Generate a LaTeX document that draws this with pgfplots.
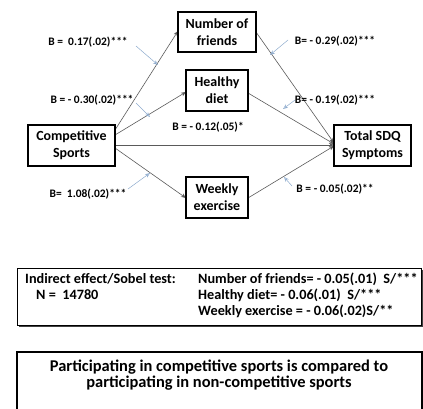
\documentclass[border=0pt]{standalone}
\usepackage{pgfplots}
\pgfplotsset{compat=1.18}
\usepackage{fontspec}
\setmainfont{Carlito}
\usetikzlibrary{arrows.meta}
\definecolor{lineg}{RGB}{90,90,90}
\definecolor{callout}{RGB}{140,170,205}
\begin{document}
\begin{tikzpicture}
\begin{axis}[
  scale only axis, width=423bp, height=409bp,
  xmin=0, xmax=423, ymin=0, ymax=409, y dir=reverse,
  hide axis, clip=false,
]
\coordinate (TL) at (axis cs:0,0);
\coordinate (BR) at (axis cs:423,409);
% path lines
\addplot[lineg, line width=0.6pt, -{Stealth[length=5pt,width=4pt]}] coordinates {(115,130) (178,31)};
\addplot[lineg, line width=0.6pt, -{Stealth[length=5pt,width=4pt]}] coordinates {(115,135) (186,92)};
\addplot[lineg, line width=0.6pt, -{Stealth[length=5pt,width=4pt]}] coordinates {(115,145) (334,145)};
\addplot[lineg, line width=0.6pt, -{Stealth[length=5pt,width=4pt]}] coordinates {(115,148) (186,198)};
\addplot[lineg, line width=0.6pt, -{Stealth[length=5pt,width=4pt]}] coordinates {(256,32) (334,143)};
\addplot[lineg, line width=0.6pt, -{Stealth[length=5pt,width=4pt]}] coordinates {(248,93) (334,144)};
\addplot[lineg, line width=0.6pt, -{Stealth[length=5pt,width=4pt]}] coordinates {(248,198) (334,146)};
% callout arrows
\addplot[callout, line width=0.5pt, -{Stealth[length=5pt,width=4pt,open]}] coordinates {(136,46) (158,65)};
\addplot[callout, line width=0.5pt, -{Stealth[length=5pt,width=4pt,open]}] coordinates {(136,103) (150,117)};
\addplot[callout, line width=0.5pt, -{Stealth[length=5pt,width=4pt,open]}] coordinates {(128,189) (150,173)};
\addplot[callout, line width=0.5pt, -{Stealth[length=5pt,width=4pt,open]}] coordinates {(288,40) (270,55)};
\addplot[callout, line width=0.5pt, -{Stealth[length=5pt,width=4pt,open]}] coordinates {(295,100) (283,109)};
\addplot[callout, line width=0.5pt, -{Stealth[length=5pt,width=4pt,open]}] coordinates {(292,186) (284,177)};
% boxes
\draw[line width=1.5pt, fill=white] (axis cs:178,12) rectangle (axis cs:256,52);
\draw[line width=1.5pt, fill=white] (axis cs:186,70) rectangle (axis cs:248,111);
\draw[line width=1.5pt, fill=white] (axis cs:28,125) rectangle (axis cs:115,166);
\draw[line width=1.5pt, fill=white] (axis cs:334,125) rectangle (axis cs:411,166);
\draw[line width=1.5pt, fill=white] (axis cs:186,177) rectangle (axis cs:248,218);
\begin{scope}[every node/.style={font=\fontsize{14}{17}\selectfont\bfseries, align=center, inner sep=0pt}]
\node at (axis cs:217,32) {Number of\\friends};
\node at (axis cs:217,90.5) {Healthy\\diet};
\node at (axis cs:71.5,145.5) {Competitive\\Sports};
\node at (axis cs:372.5,145.5) {Total SDQ\\Symptoms};
\node at (axis cs:217,197.5) {Weekly\\exercise};
\end{scope}
% coefficient labels
\begin{scope}[every node/.style={font=\fontsize{11.5}{13}\selectfont\bfseries, inner sep=0pt}]
\node at (axis cs:88,42) {B =\ \ 0.17(.02)***};
\node at (axis cs:92,100) {B = - 0.30(.02)***};
\node at (axis cs:208,127) {B = - 0.12(.05)*};
\node at (axis cs:88,194) {B= \ 1.08(.02)***};
\node at (axis cs:335,41) {B= - 0.29(.02)***};
\node at (axis cs:335,100) {B= - 0.19(.02)***};
\node at (axis cs:335,189) {B = - 0.05(.02)**};
\end{scope}
% indirect box with shadow
\fill[black!75] (axis cs:19,270) rectangle (axis cs:423,327);
\draw[line width=1pt, fill=white] (axis cs:17,268) rectangle (axis cs:421,325);
\begin{scope}[every node/.style={font=\fontsize{14.3}{15}\selectfont\bfseries, inner sep=0pt, anchor=west}]
\node at (axis cs:25,279) {Indirect effect/Sobel test:};
\node at (axis cs:36,295) {N =\ \ 14780};
\node at (axis cs:198,279) {Number of friends= - 0.05(.01)\ \ S/***};
\node at (axis cs:198,295) {Healthy diet= - 0.06(.01)\ \ S/***};
\node at (axis cs:198,311) {Weekly exercise = - 0.06(.02)S/**};
\end{scope}
% bottom box
\draw[line width=1.2pt] (axis cs:17,409) -- (axis cs:17,352) -- (axis cs:422,352) -- (axis cs:422,409);
\node[font=\fontsize{16.5}{16}\selectfont\bfseries, inner sep=0pt] at (axis cs:219,367) {Participating in competitive sports is compared to};
\node[font=\fontsize{16.5}{16}\selectfont\bfseries, inner sep=0pt] at (axis cs:219,383) {participating in non-competitive sports};
\end{axis}
\pgfresetboundingbox
\path[use as bounding box] (TL) rectangle (BR);
\end{tikzpicture}
\end{document}
